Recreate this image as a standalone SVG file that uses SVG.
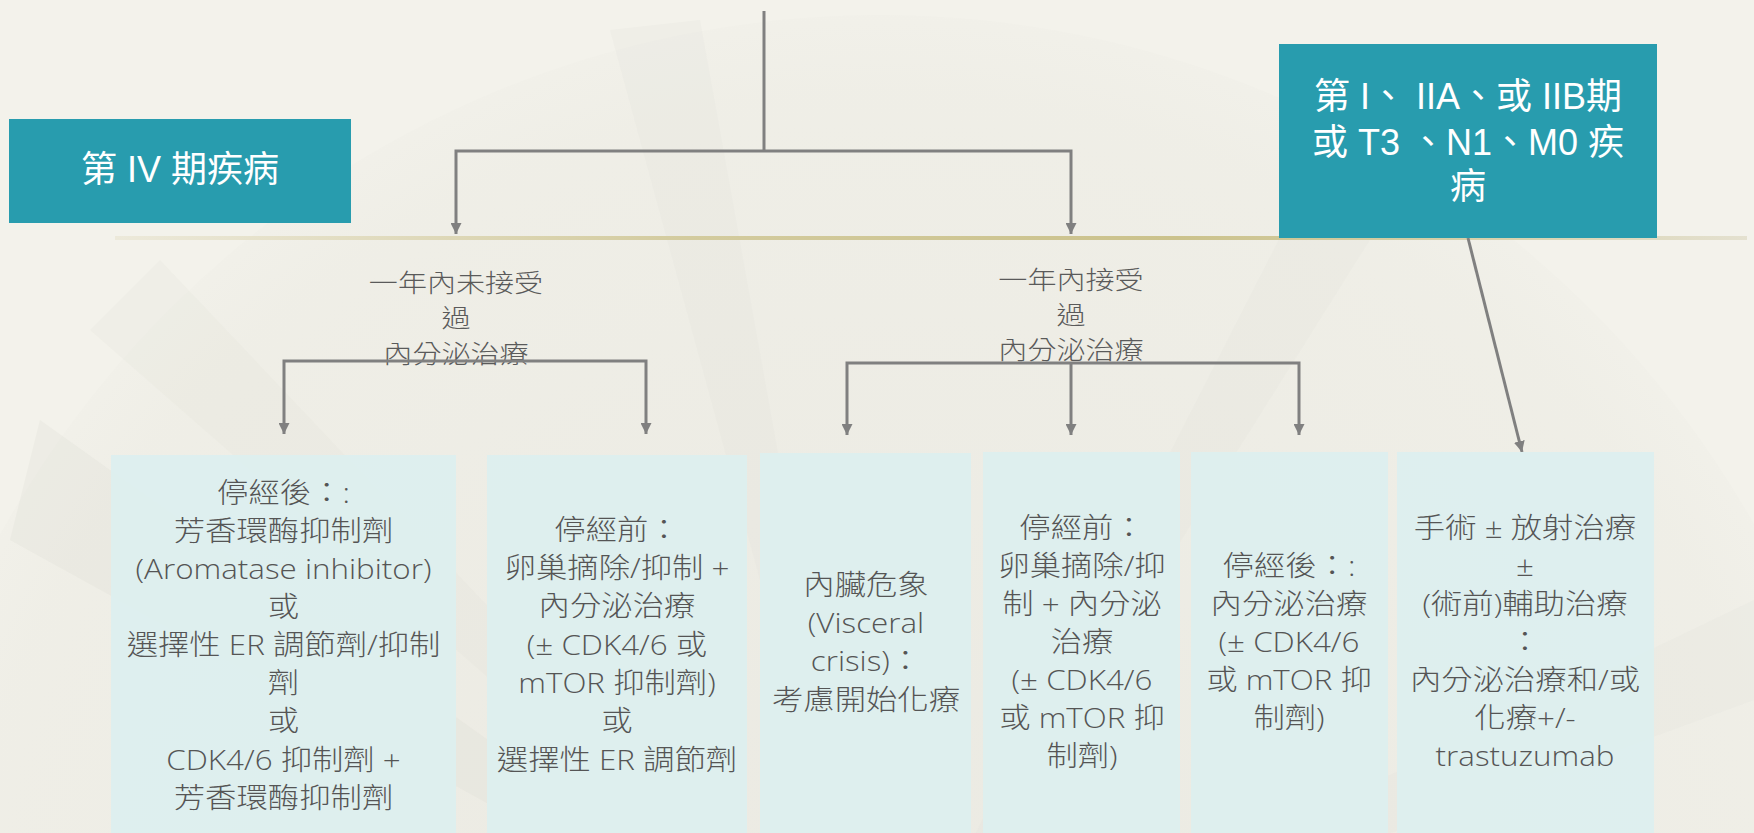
<svg xmlns="http://www.w3.org/2000/svg" width="1754" height="833" viewBox="0 0 1754 833">
  <defs>
    <style>
      .teal { fill: #289CAE; }
      .tealtxt { font-family: "Liberation Sans", "Noto Sans CJK TC", sans-serif; font-size: 36px; fill: #FFFFFF; text-anchor: middle; }
      .lbl { font-family: "Open Sans", "Noto Sans CJK TC", sans-serif; font-size: 25.5px; font-weight: 300; fill: #5A5A5A; text-anchor: middle; }
      .card { fill: #DDEFEF; fill-opacity: 0.93; }
      .ctxt { font-family: "Open Sans", "Noto Sans CJK TC", sans-serif; font-size: 28px; font-weight: 300; fill: #555555; text-anchor: middle; }
      .conn { fill: none; stroke: #808080; stroke-width: 3; stroke-linejoin: miter; }
    </style>
    <marker id="arr" viewBox="0 0 10 10" refX="10" refY="5" markerWidth="11" markerHeight="11" markerUnits="userSpaceOnUse" orient="auto">
      <path d="M0,0 L10,5 L0,10 z" fill="#808080"/>
    </marker>
    <linearGradient id="gold" x1="115" y1="0" x2="1750" y2="0" gradientUnits="userSpaceOnUse">
      <stop offset="0" stop-color="#ECE9DA"/>
      <stop offset="0.35" stop-color="#D3CB9E"/>
      <stop offset="0.65" stop-color="#CBC28C"/>
      <stop offset="0.85" stop-color="#D8D2AE"/>
      <stop offset="1" stop-color="#E4E1D0"/>
    </linearGradient>
    <radialGradient id="fan" cx="880" cy="1020" r="1010" gradientUnits="userSpaceOnUse">
      <stop offset="0.3" stop-color="#E6E5DD"/>
      <stop offset="0.92" stop-color="#ECEBE3"/>
      <stop offset="1" stop-color="#F0EFE8"/>
    </radialGradient>
  </defs>

  <g id="background">
    <rect x="0" y="0" width="1754" height="833" fill="#F3F2EB"/>
    <circle cx="880" cy="1020" r="1005" fill="url(#fan)" opacity="0.55"/>
    <path d="M880,1020 L40,420 L10,540 Z" fill="#DCDBD3" opacity="0.25"/>
    <path d="M880,1020 L160,260 L90,330 Z" fill="#E0DFD7" opacity="0.2"/>
    <path d="M880,1020 L700,20 L610,30 Z" fill="#E0DFD7" opacity="0.18"/>
    <path d="M880,1020 L1420,160 L1340,120 Z" fill="#E0DFD7" opacity="0.18"/>
    <path d="M880,1020 L1754,700 L1754,600 Z" fill="#E0DFD7" opacity="0.18"/>
    <rect x="115" y="236" width="1632" height="4" fill="url(#gold)"/>
  </g>

  <g id="label-no-endocrine">
    <text class="lbl" transform="translate(456,0) scale(1.14,1)" y="292"><tspan x="0">一年內未接受</tspan><tspan x="0" dy="35">過</tspan><tspan x="0" dy="36">內分泌治療</tspan></text>
  </g>
  <g id="label-endocrine">
    <text class="lbl" transform="translate(1071,0) scale(1.14,1)" y="289"><tspan x="0">一年內接受</tspan><tspan x="0" dy="35">過</tspan><tspan x="0" dy="35">內分泌治療</tspan></text>
  </g>

  <g id="connectors">
    <path class="conn" d="M764,11 V151"/>
    <path class="conn" d="M764,151 H456 V234" marker-end="url(#arr)"/>
    <path class="conn" d="M764,151 H1071 V234" marker-end="url(#arr)"/>
    <path class="conn" d="M456,361 H284 V434" marker-end="url(#arr)"/>
    <path class="conn" d="M456,361 H646 V434" marker-end="url(#arr)"/>
    <path class="conn" d="M1071,363 H847 V435" marker-end="url(#arr)"/>
    <path class="conn" d="M1071,363 V435" marker-end="url(#arr)"/>
    <path class="conn" d="M1071,363 H1299 V435" marker-end="url(#arr)"/>
    <path class="conn" d="M1468,238 L1522,452" marker-end="url(#arr)"/>
  </g>

  <g id="stage-iv">
    <rect class="teal" x="9" y="119" width="342" height="104"/>
    <text class="tealtxt" x="180" y="182">第 IV 期疾病</text>
  </g>

  <g id="stage-early">
    <rect class="teal" x="1279" y="44" width="378" height="194"/>
    <text class="tealtxt" x="1468" y="109"><tspan x="1468">第 I、 IIA、或 IIB期</tspan><tspan x="1468" dy="46">或 T3 、N1、M0 疾</tspan><tspan x="1468" dy="44">病</tspan></text>
  </g>

  <g id="postmenopausal-1">
    <rect class="card" x="111" y="455" width="345" height="378"/>
    <text class="ctxt" transform="translate(283.5,0) scale(1.12,1)" y="503"><tspan x="0">停經後：:</tspan><tspan x="0" dy="38">芳香環酶抑制劑</tspan><tspan x="0" dy="38">(Aromatase inhibitor)</tspan><tspan x="0" dy="38">或</tspan><tspan x="0" dy="38">選擇性 ER 調節劑/抑制</tspan><tspan x="0" dy="38">劑</tspan><tspan x="0" dy="38">或</tspan><tspan x="0" dy="39">CDK4/6 抑制劑 +</tspan><tspan x="0" dy="38">芳香環酶抑制劑</tspan></text>
  </g>

  <g id="premenopausal-1">
    <rect class="card" x="487" y="455" width="260" height="378"/>
    <text class="ctxt" transform="translate(617,0) scale(1.12,1)" y="540"><tspan x="0">停經前：</tspan><tspan x="0" dy="38">卵巢摘除/抑制 +</tspan><tspan x="0" dy="38">內分泌治療</tspan><tspan x="0" dy="39">(± CDK4/6 或</tspan><tspan x="0" dy="38">mTOR 抑制劑)</tspan><tspan x="0" dy="38">或</tspan><tspan x="0" dy="39">選擇性 ER 調節劑</tspan></text>
  </g>

  <g id="visceral-crisis">
    <rect class="card" x="760" y="453" width="211" height="380"/>
    <text class="ctxt" transform="translate(866,0) scale(1.12,1)" y="595"><tspan x="0">內臟危象</tspan><tspan x="0" dy="38">(Visceral</tspan><tspan x="0" dy="38">crisis)：</tspan><tspan x="0" dy="39">考慮開始化療</tspan></text>
  </g>

  <g id="premenopausal-2">
    <rect class="card" x="983" y="452" width="197" height="381"/>
    <text class="ctxt" transform="translate(1082,0) scale(1.12,1)" y="538"><tspan x="0">停經前：</tspan><tspan x="0" dy="38">卵巢摘除/抑</tspan><tspan x="0" dy="38">制 + 內分泌</tspan><tspan x="0" dy="38">治療</tspan><tspan x="0" dy="38">(± CDK4/6</tspan><tspan x="0" dy="38">或 mTOR 抑</tspan><tspan x="0" dy="38">制劑)</tspan></text>
  </g>

  <g id="postmenopausal-2">
    <rect class="card" x="1191" y="452" width="197" height="381"/>
    <text class="ctxt" transform="translate(1289,0) scale(1.12,1)" y="576"><tspan x="0">停經後：:</tspan><tspan x="0" dy="38">內分泌治療</tspan><tspan x="0" dy="38">(± CDK4/6</tspan><tspan x="0" dy="38">或 mTOR 抑</tspan><tspan x="0" dy="38">制劑)</tspan></text>
  </g>

  <g id="surgery">
    <rect class="card" x="1397" y="452" width="257" height="381"/>
    <text class="ctxt" transform="translate(1525,0) scale(1.12,1)" y="538"><tspan x="0">手術 ± 放射治療</tspan><tspan x="0" dy="38">±</tspan><tspan x="0" dy="38">(術前)輔助治療</tspan><tspan x="0" dy="38">：</tspan><tspan x="0" dy="38">內分泌治療和/或</tspan><tspan x="0" dy="38">化療+/-</tspan><tspan x="0" dy="38">trastuzumab</tspan></text>
  </g>
</svg>
